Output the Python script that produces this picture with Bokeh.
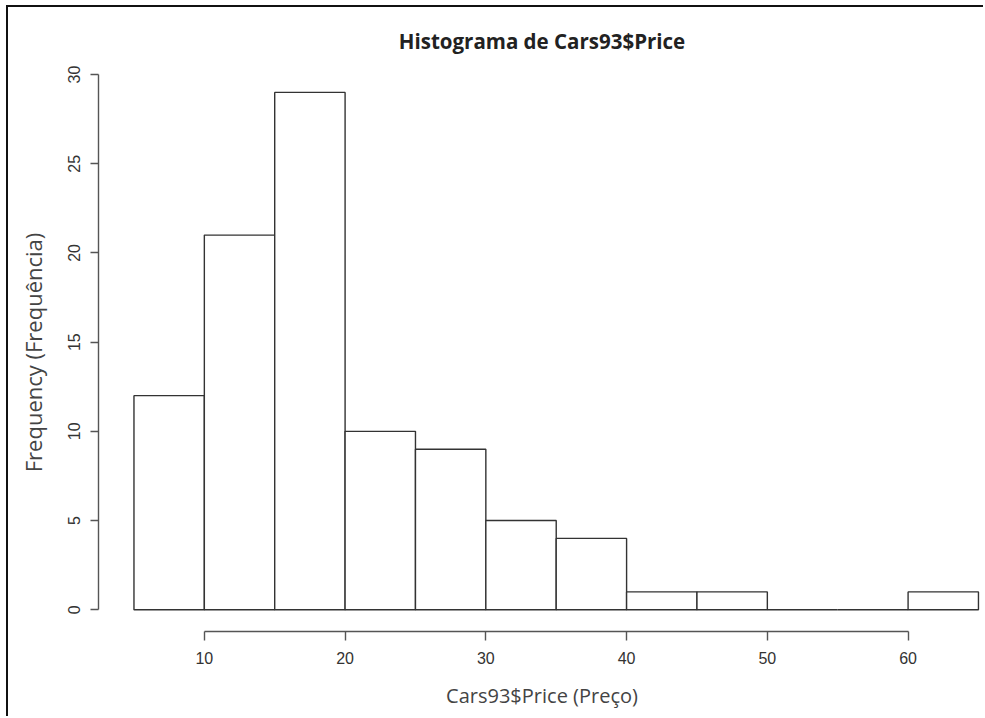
from bokeh.plotting import figure
from bokeh.models import Range1d, FixedTicker
from bokeh.embed import file_html
from bokeh.resources import INLINE

# Histogram data (Cars93$Price), bins of width 5
bin_left = [5, 10, 15, 20, 25, 30, 35, 40, 45, 50, 55, 60]
bin_right = [10, 15, 20, 25, 30, 35, 40, 45, 50, 55, 60, 65]
counts = [12, 21, 29, 10, 9, 5, 4, 1, 1, 0, 0, 1]
x_ticks = [10, 20, 30, 40, 50, 60]
y_ticks = [0, 5, 10, 15, 20, 25, 30]

p = figure(width=977, height=711, output_backend="svg", toolbar_location=None,
           x_range=Range1d(2.48, 65.5), y_range=Range1d(-1.22, 30.06),
           min_border_left=90, min_border_right=0, min_border_top=66,
           min_border_bottom=87, title="Histograma de Cars93$Price")

p.quad(left=bin_left, right=bin_right, bottom=0, top=counts,
       fill_color="white", line_color="#333333", line_width=1.4)

p.grid.visible = False
p.outline_line_color = None
p.background_fill_color = "white"
p.border_fill_color = "white"

p.title.align = "center"
p.title.vertical_align = "top"
p.title.text_font = "Open Sans"
p.title.text_font_style = "bold"
p.title.text_font_size = "20.5px"
p.title.text_color = "#222222"
p.title.standoff = 33

xa = p.xaxis[0]
xa.ticker = FixedTicker(ticks=x_ticks)
xa.bounds = (10, 60)
xa.axis_line_color = "#555555"
xa.axis_line_width = 1.4
xa.major_tick_line_color = "#555555"
xa.major_tick_line_width = 1.4
xa.major_tick_in = 0
xa.major_tick_out = 9
xa.minor_tick_line_color = None
xa.major_label_text_font = "Liberation Sans"
xa.major_label_text_font_size = "16px"
xa.major_label_text_color = "#333333"
xa.major_label_standoff = 11
xa.axis_label = "Cars93$Price (Preço)"
xa.axis_label_text_font = "Open Sans"
xa.axis_label_text_font_style = "normal"
xa.axis_label_text_font_size = "20px"
xa.axis_label_text_color = "#444444"
xa.axis_label_standoff = 15

ya = p.yaxis[0]
ya.ticker = FixedTicker(ticks=y_ticks)
ya.bounds = (0, 30)
ya.axis_line_color = "#555555"
ya.axis_line_width = 1.4
ya.major_tick_line_color = "#555555"
ya.major_tick_line_width = 1.4
ya.major_tick_in = 0
ya.major_tick_out = 8
ya.minor_tick_line_color = None
ya.major_label_orientation = "vertical"
ya.major_label_text_font = "Liberation Sans"
ya.major_label_text_font_size = "16px"
ya.major_label_text_color = "#333333"
ya.major_label_standoff = 10
ya.axis_label = "Frequency (Frequência)"
ya.axis_label_text_font = "Open Sans"
ya.axis_label_text_font_style = "normal"
ya.axis_label_text_font_size = "22px"
ya.axis_label_text_color = "#444444"
ya.axis_label_standoff = 18

p.styles = {"border-left": "2px solid #111111", "border-top": "2px solid #111111",
            "margin-left": "6px", "margin-top": "5px"}

open("out.html", "w").write(file_html(p, INLINE))
